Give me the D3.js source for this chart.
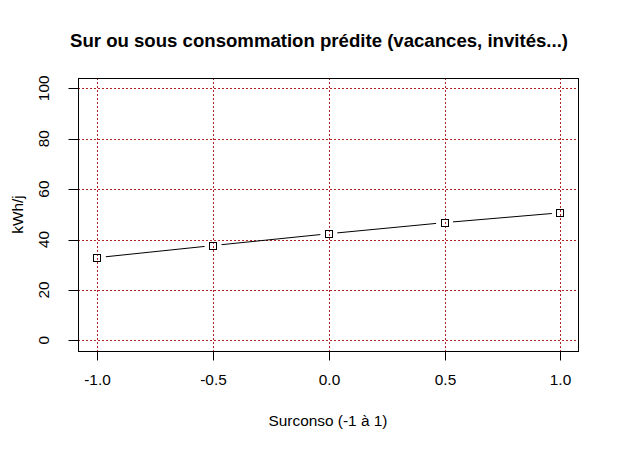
<!DOCTYPE html>
<html>
<head>
<meta charset="utf-8">
<script src="https://cdn.jsdelivr.net/npm/d3@7"></script>
<style>
  body { margin: 0; background: #fff; }
  svg { display: block; }
</style>
</head>
<body>
<svg id="chart" width="619" height="449"></svg>
<script>
const xValues = [-1.0, -0.5, 0.0, 0.5, 1.0];
const kwhValues = [32.8, 37.6, 42.3, 46.7, 50.6];
const xTicks = [-1.0, -0.5, 0.0, 0.5, 1.0];
const yTicks = [0, 20, 40, 60, 80, 100];

const width = 619, height = 449;
const box = { left: 78, right: 578, top: 78, bottom: 351 };
const font = "'Liberation Sans', Arial, sans-serif";
const labelSize = "15.4px";

const svg = d3.select("#chart");

const xScale = d3.scaleLinear().domain([-1, 1]).range([97.3, 560.3]);
const yScale = d3.scaleLinear().domain([0, 100]).range([340.3, 88.3]);

// Grid (red dotted)
const grid = svg.append("g")
    .attr("stroke", "#b22222")
    .attr("stroke-dasharray", "2,2")
    .attr("stroke-width", 1);
grid.selectAll(".gx")
    .data(xTicks)
    .join("line")
    .attr("x1", (d) => Math.round(xScale(d)) + 0.5)
    .attr("x2", (d) => Math.round(xScale(d)) + 0.5)
    .attr("y1", box.top)
    .attr("y2", box.bottom);
grid.selectAll(".gy")
    .data(yTicks)
    .join("line")
    .attr("y1", (d) => Math.round(yScale(d)) + 0.5)
    .attr("y2", (d) => Math.round(yScale(d)) + 0.5)
    .attr("x1", box.left)
    .attr("x2", box.right);

// Plot box
svg.append("rect")
    .attr("x", box.left + 0.5)
    .attr("y", box.top + 0.5)
    .attr("width", box.right - box.left)
    .attr("height", box.bottom - box.top)
    .attr("fill", "none")
    .attr("stroke", "#000");

// X axis
const xAxisG = svg.append("g")
    .attr("transform", `translate(0.5,${box.bottom + 0.5})`)
    .call(d3.axisBottom(xScale)
        .tickValues(xTicks)
        .tickSize(9)
        .tickPadding(14)
        .tickFormat(d3.format(".1f")));
xAxisG.select(".domain")
    .attr("d", `M${Math.round(xScale(-1))},0H${Math.round(xScale(1))}`);
xAxisG.selectAll("line").attr("stroke", "#000");
xAxisG.selectAll("text")
    .style("font-family", font)
    .style("font-size", labelSize)
    .style("fill", "#000");
xAxisG.selectAll(".tick").attr("transform", (d) => `translate(${Math.round(xScale(d))},0)`);
xAxisG.selectAll(".tick text").text((d) => d3.format(".1f")(d).replace("−", "-"));

// Y axis
const yAxisG = svg.append("g")
    .attr("transform", `translate(${box.left + 0.5},0.5)`)
    .call(d3.axisLeft(yScale).tickValues(yTicks).tickSize(10).tickFormat(""));
yAxisG.select(".domain")
    .attr("d", `M0,${Math.round(yScale(0))}V${Math.round(yScale(100))}`);
yAxisG.selectAll("line").attr("stroke", "#000");
yAxisG.selectAll(".tick").attr("transform", (d) => `translate(0,${Math.round(yScale(d))})`);

svg.append("g")
    .selectAll("text")
    .data(yTicks)
    .join("text")
    .attr("transform", (d) => `translate(49,${yScale(d)}) rotate(-90)`)
    .attr("text-anchor", "middle")
    .style("font-family", font)
    .style("font-size", labelSize)
    .style("fill", "#000")
    .text((d) => d);

// Series: lines with gaps around points (type "b")
const pts = xValues.map((x, i) => ({ x: xScale(x), y: yScale(kwhValues[i]) }));
const gap = 8.5;
const segs = d3.pairs(pts).map(([a, b]) => {
    const dx = b.x - a.x, dy = b.y - a.y;
    const len = Math.hypot(dx, dy);
    const ux = dx / len, uy = dy / len;
    return { x1: a.x + ux * gap, y1: a.y + uy * gap, x2: b.x - ux * gap, y2: b.y - uy * gap };
});
svg.append("g")
    .selectAll("line")
    .data(segs)
    .join("line")
    .attr("x1", (d) => d.x1).attr("y1", (d) => d.y1)
    .attr("x2", (d) => d.x2).attr("y2", (d) => d.y2)
    .attr("stroke", "#000")
    .attr("stroke-width", 1);

svg.append("g")
    .selectAll("rect")
    .data(pts)
    .join("rect")
    .attr("x", (d) => Math.round(d.x) - 3.5)
    .attr("y", (d) => Math.round(d.y) - 3.5)
    .attr("width", 7)
    .attr("height", 7)
    .attr("fill", "none")
    .attr("stroke", "#000");

// Titles
svg.append("text")
    .attr("x", 319)
    .attr("y", 47)
    .attr("text-anchor", "middle")
    .style("font-family", font)
    .style("font-weight", "bold")
    .style("font-size", "18.6px")
    .style("fill", "#000")
    .text("Sur ou sous consommation prédite (vacances, invités...)");

svg.append("text")
    .attr("x", (box.left + box.right) / 2)
    .attr("y", 425.5)
    .attr("text-anchor", "middle")
    .style("font-family", font)
    .style("font-size", labelSize)
    .style("fill", "#000")
    .text("Surconso (-1 à 1)");

svg.append("text")
    .attr("transform", `translate(23,${(box.top + box.bottom) / 2}) rotate(-90)`)
    .attr("text-anchor", "middle")
    .style("font-family", font)
    .style("font-size", labelSize)
    .style("fill", "#000")
    .text("kWh/j");
</script>
</body>
</html>
